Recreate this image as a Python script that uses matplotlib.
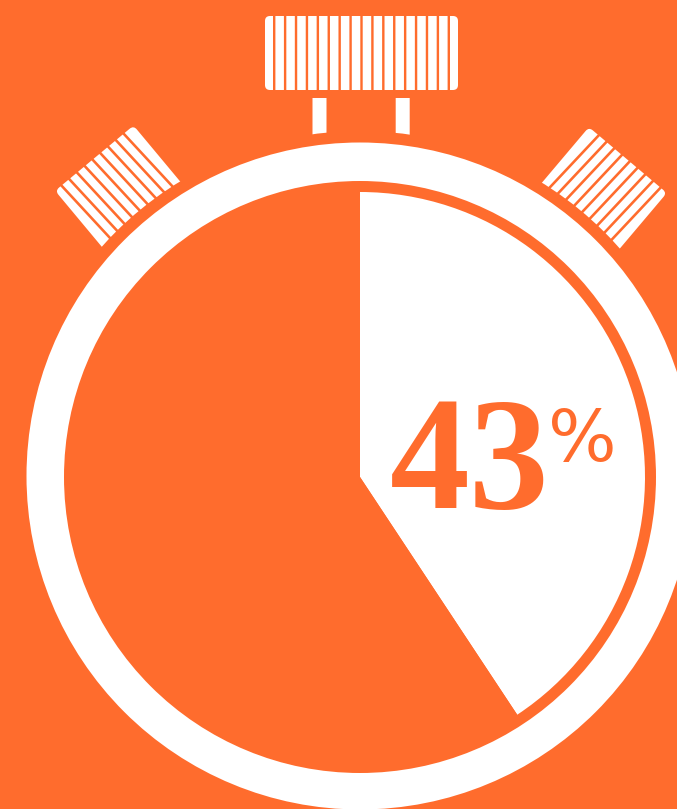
import matplotlib
matplotlib.use("Agg")
import matplotlib.pyplot as plt
import numpy as np
from matplotlib.patches import Circle, FancyBboxPatch, Rectangle
from matplotlib.transforms import Affine2D

orange = "#FF6C2D"
white = "#FFFFFF"

# wedge as drawn in the picture (it does not quite reach the printed 43)
shares = [40.7, 59.3]
label_value = "43"
label_unit = "%"

cx, cy = 360, 477

fig = plt.figure(figsize=(6.77, 8.09), dpi=100, facecolor=orange)
ax = fig.add_axes([0, 0, 1, 1])

# y axis runs downward, so counterclock here is clockwise on screen
ax.pie(shares, colors=[white, orange], startangle=-90, counterclock=True,
       center=(cx, cy), radius=285, wedgeprops=dict(linewidth=0, zorder=5))
ax.set_xlim(0, 677)
ax.set_ylim(809, 0)
ax.set_aspect("auto")
ax.axis("off")


def knob(x0, x1, y0, y1, n_slits, slit_w, margin, angle=0, rounding=5, tilt=0):
    tr = Affine2D().rotate_deg_around(cx, cy, angle) + ax.transData
    ax.add_patch(FancyBboxPatch((x0 + rounding, y0 + rounding),
                                x1 - x0 - 2 * rounding, y1 - y0 - 2 * rounding,
                                boxstyle="round,pad=%d,rounding_size=%d" % (rounding, rounding),
                                fc=white, ec="none", transform=tr, zorder=1))
    ymid = (y0 + y1) / 2
    for sx in np.linspace(x0 + margin, x1 - margin, n_slits):
        slit_tr = Affine2D().rotate_deg_around(sx, ymid, tilt) + tr
        ax.add_patch(Rectangle((sx - slit_w / 2, y0 - 12), slit_w, y1 - y0 + 24,
                               fc=orange, ec="none", transform=slit_tr,
                               zorder=1.5, snap=False))


# knobs on top and both sides
knob(265, 458, 16, 90, 17, 2.4, 9.2)
knob(309, 411, 62, 150, 9, 2.6, 10.5, angle=-39.8, rounding=5, tilt=-3)
knob(309, 411, 62, 150, 9, 2.6, 10.5, angle=40.2, rounding=5, tilt=3)

# two posts under the top knob
ax.add_patch(Rectangle((312.5, 98), 14, 50, fc=white, ec="none", zorder=1.7, snap=False))
ax.add_patch(Rectangle((395.7, 98), 14, 50, fc=white, ec="none", zorder=1.7, snap=False))

# gap disc cuts the bottoms of posts and side knobs, then the white ring
ax.add_patch(Circle((cx, cy), 346, fc=orange, ec="none", zorder=2))
ax.add_patch(Circle((cx, cy - 1), 333.5, fc=white, ec="none", zorder=3))
ax.add_patch(Circle((cx, cy), 296, fc=orange, ec="none", zorder=4))

ax.text(470, 508, label_value, color=orange, fontsize=115, fontweight="bold",
        family="Liberation Serif", ha="center", va="baseline", zorder=6)
ax.text(582, 461, label_unit, color=orange, fontsize=52,
        family="DejaVu Sans", ha="center", va="baseline", zorder=6)

fig.savefig("out.png", dpi=100, facecolor=orange)
